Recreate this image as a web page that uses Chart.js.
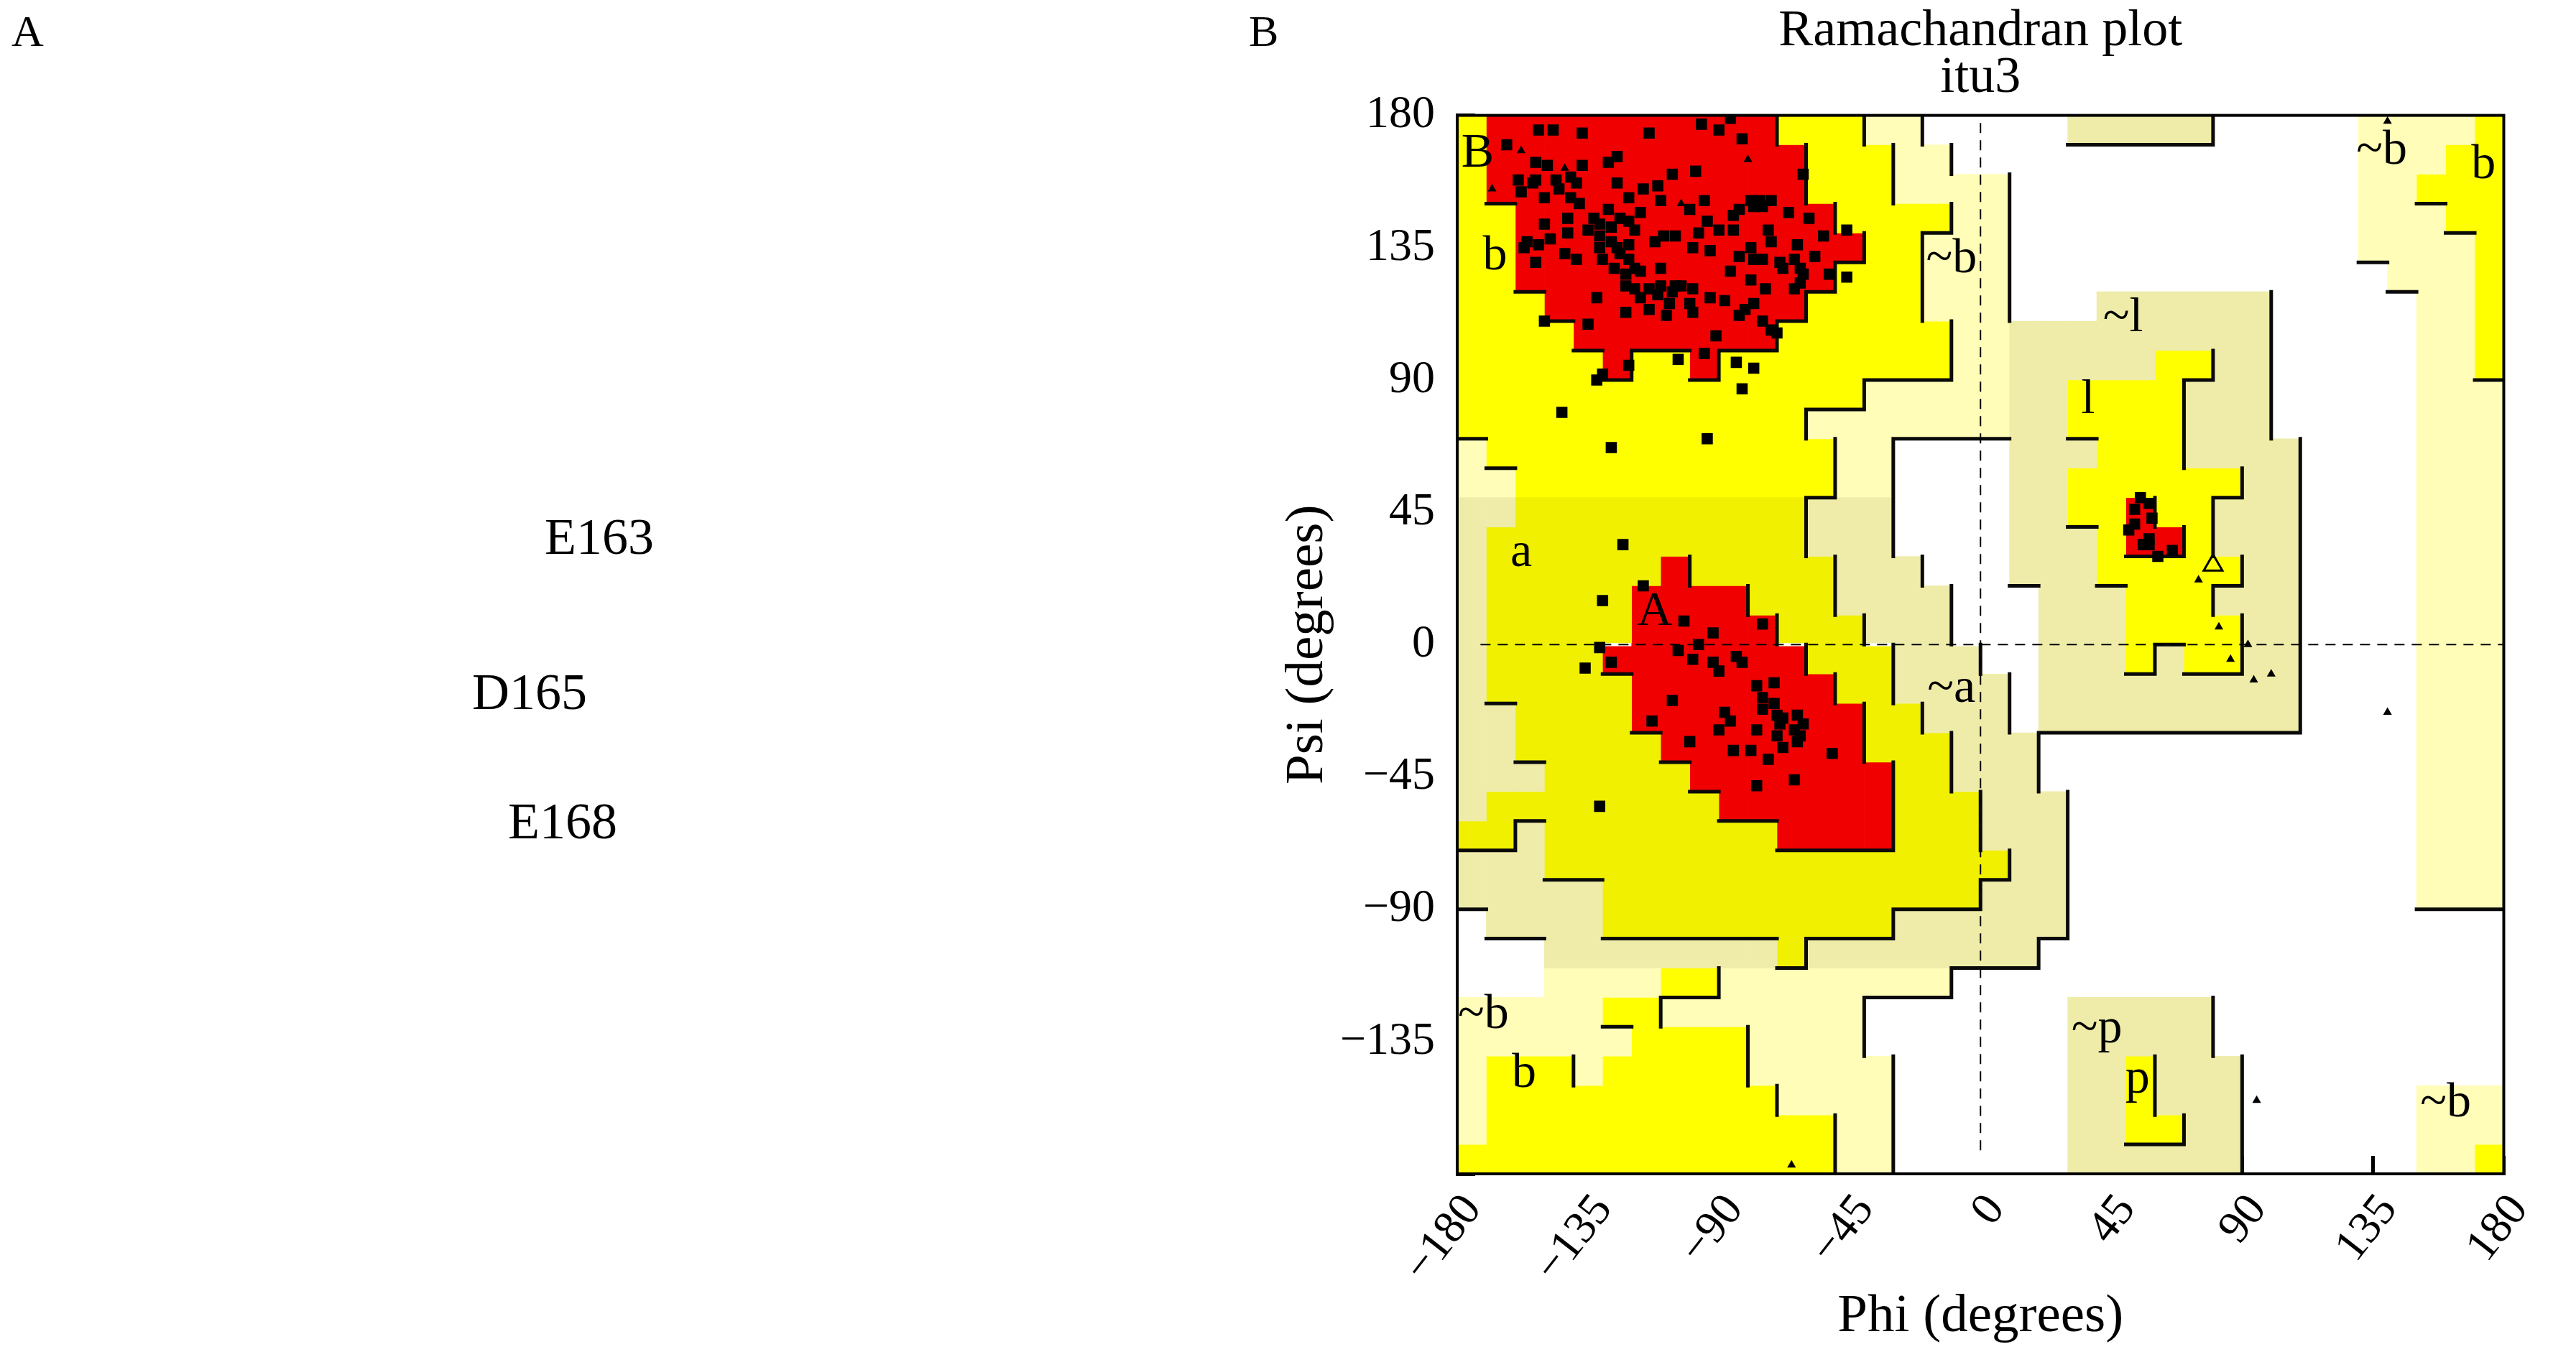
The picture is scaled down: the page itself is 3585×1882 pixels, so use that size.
<!DOCTYPE html>
<html>
<head>
<meta charset="utf-8">
<script src="https://cdn.jsdelivr.net/npm/chart.js@4.4.1/dist/chart.umd.min.js"></script>
<style>
  html, body { margin: 0; padding: 0; background: #fff; width: 3585px; height: 1882px; overflow: hidden; }
  body { font-family: "Liberation Serif", "Times New Roman", serif; color: #000; }
  .lbl { position: absolute; line-height: 1; white-space: nowrap; }
  #wrap { position: absolute; left: 1760px; top: 0; width: 1825px; height: 1882px; }
</style>
</head>
<body>
<div class="lbl" style="left:16px;top:12px;font-size:62px">A</div>
<div class="lbl" style="left:1738px;top:12px;font-size:62px">B</div>
<div class="lbl" style="left:758px;top:711px;font-size:72px">E163</div>
<div class="lbl" style="left:657px;top:927px;font-size:72px">D165</div>
<div class="lbl" style="left:707px;top:1107px;font-size:72px">E168</div>
<div id="wrap"><canvas id="rama" width="1825" height="1882"></canvas></div>
<script>
// tick values on both axes (degrees)
const phiTicks = [-180, -135, -90, -45, 0, 45, 90, 135, 180];
const psiTicks = [-180, -135, -90, -45, 0, 45, 90, 135, 180];

// region map, 10 degree cells. one string per psi row (180 -> -180),
// one char per phi column (-180 -> 180)
// R core, Y allowed, A allowed (alpha side), K/P generous, . disallowed
const regionRows = [
  "YRRRRRRRRRRYYYPP.....KKKKK.....PPPPY",
  "YRRRRRRRRRRRYYYPP..............PPPYY",
  "YRRRRRRRRRRRYYYPPPP............PPYYY",
  "YYRRRRRRRRRRRYYYYPP............PPPYY",
  "YYRRRRRRRRRRRRYYPPP............PPPPY",
  "YYRRRRRRRRRRRYYYPPP.............PPPY",
  "YYYRRRRRRRRRYYYYPPP...KKKKKK.....PPY",
  "YYYYRRRRRRRYYYYYYPPKKKKKKKKK.....PPY",
  "YYYYYRYYRYYYYYYYYPPKKKKKYYKK.....PPY",
  "YYYYYYYYYYYYYYPPPPPKKYYYYKKK.....PPP",
  "YYYYYYYYYYYYPPPPPPPKKYYYYKKK.....PPP",
  "PYYYYYYYYYYYYPP....KKKYYYKKKK....PPP",
  "PPYYYYYYYYYYYPP....KKYYYYYYKK....PPP",
  "KKAAAAAAAAAAKKK....KKYYRYYKKK....PPP",
  "KAAAAAAAAAAAKKK....KKKYRRYKKK....PPP",
  "KAAAAAARAAAAAKKK...KKKYYYYYKK....PPP",
  "KAAAAARRRRAAAKKKK...KKKYYYKKK....PPP",
  "KAAAAARRRRRAAAKKK...KKKYYYYKK....PPP",
  "KAAAARRRRRRRAAAKKK..KKKYKYYKK....PPP",
  "KAAAAARRRRRRRAAKKKK.KKKKKKKKK....PPP",
  "KKAAAARRRRRRRRAAKKK.KKKKKKKKK....PPP",
  "KKAAAAARRRRRRRAAAKKK.............PPP",
  "KKKAAAAARRRRRRRAAKKK.............PPP",
  "KAAAAAAAARRRRRRAAAKKK............PPP",
  "AAKAAAAAAAARRRRAAAKKK............PPP",
  "KKKAAAAAAAAAAAAAAAAKK............PPP",
  "KKKKKAAAAAAAAAAAAAKKK............PPP",
  ".KKKKAAAAAAAAAAKKKKKK...............",
  "...KKKKKKKKAKKKKKKKK................",
  "...PPPPYYPPPPPPPP...................",
  "PPPPPYYPPPPPPP.......KKKKK..........",
  "PPPPPPYYYYPPPP.......KKKKK..........",
  "PYYYPYYYYYPPPPP......KKYKKK.........",
  "PYYYYYYYYYYPPPP......KKYKKK......PPP",
  "PYYYYYYYYYYYYPP......KKYYKK......PPP",
  "YYYYYYYYYYYYYPP......KKKKKK......PPY"
];
const regionColours = { K: '#efeca9', P: '#fffdb7', A: '#f0f000', Y: '#ffff00', R: '#f00000' };
const regionRank = { R: 4, Y: 3, A: 3, K: 2, P: 2, '.': 1 };

// residues [phi, psi]
const betaResidues = [
  [-152,175],[-147,175],[-137,174],[-114,174],[-96,177],[-90,175],[-86,179],[-82,172],[-163,170],
  [-125,166],[-128,164],[-153,164],[-149,163],[-137,163],[-98,161],[-106,160],[-159,158],[-153,158],
  [-146,158],[-141,159],[-139,157],[-61,160],[-125,157],[-116,155],[-111,156],[-158,154],[-150,152],
  [-141,152],[-138,150],[-121,152],[-110,151],[-95,151],[-100,148],[-79,151],[-76,151],[-72,151],
  [-78,149],[-83,148],[-85,146],[-128,148],[-117,147],[-66,147],[-59,145],[-133,145],[-124,145],
  [-142,145],[-150,143],[-94,144],[-46,141],[-97,140],[-90,141],[-85,141],[-73,141],[-54,139],
  [-156,137],[-152,136],[-148,138],[-142,140],[-135,141],[-131,143],[-127,142],[-121,144],[-119,141],
  [-112,137],[-109,139],[-105,139],[-99,135],[-93,134],[-79,135],[-72,137],[-63,136],[-57,132],
  [-157,135],[-153,130],[-143,133],[-139,131],[-131,135],[-130,131],[-124,133],[-121,131],[-119,128],
  [-117,127],[-110,128],[-86,127],[-83,132],[-78,131],[-75,131],[-69,130],[-64,131],[-62,128],
  [-61,126],[-52,126],[-46,125],[-79,124],[-122,122],[-119,121],[-114,121],[-110,122],[-105,122],
  [-103,122],[-99,121],[-132,118],[-117,118],[-114,114],[-107,116],[-100,116],[-93,118],[-88,117],
  [-74,121],[-64,121],[-78,116],[-81,114],[-122,113],[-108,112],[-99,113],[-83,112],[-75,110],
  [-72,107],[-70,106],[-150,110],[-135,109],[-91,105],[-95,99],[-121,95],[-132,90],[-130,92],
  [-104,97],[-84,96],[-78,94],[-82,87],[-144,79],[-127,67],[-94,70],
  [-131,139],[-127,137],[-125,135],[-121,136],[-126,128],[-122,126],[-77,131],[-68,128],[-62,123],
  [-77,150],[-75,149],[-111,119],[-106,120],[-145,155],[-154,157]
];
const alphaResidues = [
  [-123,34],[-116,20],[-130,15],[-102,8],[-92,4],[-75,7],[-97,0],[-131,-1],[-127,-6],[-136,-8],
  [-104,-2],[-99,-5],[-92,-6],[-90,-9],[-84,-4],[-82,-6],[-77,-14],[-71,-13],[-75,-18],[-75,-22],
  [-106,-19],[-88,-23],[-86,-26],[-70,-24],[-63,-24],[-69,-27],[-77,-29],[-90,-29],[-113,-26],
  [-62,-31],[-70,-31],[-63,-33],[-68,-35],[-100,-33],[-85,-36],[-79,-36],[-73,-39],[-51,-37],
  [-64,-46],[-77,-48],[-131,-55],[-68,-25],[-61,-27],[-71,-20],[-64,-29]
];
const leftResidues = [
  [55,50],[58,48],[53,46],[59,43],[51,39],[53,41],[58,36],[56,34],[61,30],[66,32],[58,34]
];
const glycines = [
  [-158,168],[-143,162],[-168,155],[-80,165],[-103,150],[75,22],[82,6],[86,-5],[92,0],
  [94,-12],[100,-10],[140,-23],[140,178],[95,-155],[-65,-177]
];
const outlierGlycine = [[80,27]];

const regionLabels = [
  ['B', -173, 167], ['b', -167, 132], ['~b', -10, 131], ['a', -158, 31], ['A', -112, 11],
  ['~a', -10, -15], ['~l', 49, 111], ['l', 37, 83], ['~b', 138, 168], ['b', 173, 163],
  ['~b', -171, -126], ['b', -157, -146], ['~p', 40, -131], ['p', 54, -148], ['~b', 160, -156]
];

const toXY = list => list.map(p => ({ x: p[0], y: p[1] }));
const fmt = v => (v < 0 ? '\u2212' + (-v) : String(v));

// floating bars, one per vertical run of equal cells
const cellSets = {};
Object.keys(regionColours).forEach(c => { cellSets[c] = []; });
for (let k = 0; k < 36; k++) {
  let j = 0;
  while (j < 36) {
    const c = regionRows[j][k];
    let e = j;
    while (e + 1 < 36 && regionRows[e + 1][k] === c) e++;
    if (c !== '.') cellSets[c].push({ x: -175 + 10 * k, y: [170 - 10 * e, 180 - 10 * j] });
    j = e + 1;
  }
}

// dark edge on the right / lower side of a better region
const edges = [];
for (let j = 0; j < 36; j++) {
  for (let k = 0; k < 36; k++) {
    const r = regionRank[regionRows[j][k]];
    const phiL = -180 + 10 * k;
    const psiT = 180 - 10 * j;
    if (k < 35 && r > regionRank[regionRows[j][k + 1]]) {
      edges.push({ x: phiL + 10, y: psiT }, { x: phiL + 10, y: psiT - 10 }, { x: phiL + 10, y: null });
    }
    if (j < 35 && r > regionRank[regionRows[j + 1][k]]) {
      edges.push({ x: phiL, y: psiT - 10 }, { x: phiL + 10, y: psiT - 10 }, { x: phiL + 10, y: null });
    }
  }
}

const datasets = [];
['K', 'P', 'A', 'Y', 'R'].forEach(c => {
  datasets.push({
    type: 'bar', data: cellSets[c], backgroundColor: regionColours[c], borderWidth: 0,
    grouped: false, barPercentage: 1, categoryPercentage: 1, order: 10
  });
});
datasets.push({
  type: 'line', data: edges, borderColor: '#0a0a0a', borderWidth: 5, pointRadius: 0,
  borderCapStyle: 'square', spanGaps: false, order: 5
});
datasets.push({
  type: 'line', data: [{ x: 0, y: -172 }, { x: 0, y: 180 }], borderColor: '#000', borderWidth: 2,
  borderDash: [14, 10], pointRadius: 0, order: 4
});
datasets.push({
  type: 'line', data: [{ x: -172, y: 0 }, { x: 180, y: 0 }], borderColor: '#000', borderWidth: 2,
  borderDash: [14, 10], pointRadius: 0, order: 4
});
datasets.push({
  type: 'scatter', data: toXY(betaResidues.concat(alphaResidues, leftResidues)),
  pointStyle: 'rect', pointRadius: 11, backgroundColor: '#000', borderWidth: 0, order: 1
});
datasets.push({
  type: 'scatter', data: toXY(glycines), pointStyle: 'triangle', pointRadius: 7,
  backgroundColor: '#000', borderWidth: 0, order: 1
});
datasets.push({
  type: 'scatter', data: toXY(outlierGlycine), pointStyle: 'triangle', pointRadius: 15,
  backgroundColor: 'rgba(0,0,0,0)', borderColor: '#000', borderWidth: 3, order: 1
});

const serif = 'Liberation Serif';

const regionText = {
  id: 'regionText',
  afterDatasetsDraw(chart) {
    const { ctx, chartArea, scales: { x, y } } = chart;
    ctx.save();
    ctx.font = '68px "' + serif + '"';
    ctx.fillStyle = '#000';
    ctx.textAlign = 'center';
    ctx.textBaseline = 'middle';
    regionLabels.forEach(([t, phi, psi]) => {
      ctx.fillText(t, x.getPixelForValue(phi), y.getPixelForValue(psi));
    });
    ctx.lineWidth = 4;
    ctx.strokeStyle = '#000';
    ctx.strokeRect(chartArea.left, chartArea.top, chartArea.width, chartArea.height);
    ctx.restore();
  }
};

const tickColour = c => (c.tick && c.tick.value === 0 ? 'rgba(0,0,0,0)' : '#000');

new Chart(document.getElementById('rama'), {
  type: 'bar',
  data: { datasets: datasets },
  plugins: [regionText],
  options: {
    responsive: false,
    animation: false,
    devicePixelRatio: 1,
    layout: { padding: { left: 0, right: 57, top: 0, bottom: 0 } },
    plugins: {
      legend: { display: false },
      tooltip: { enabled: false },
      title: {
        display: true, text: ['Ramachandran plot', 'itu3'], fullSize: false, color: '#000',
        font: { family: serif, size: 72, weight: 'normal', lineHeight: 0.9 },
        padding: { top: 12, bottom: 19 }
      }
    },
    scales: {
      x: {
        type: 'linear', position: 'bottom', min: -180, max: 180, offset: false,
        afterBuildTicks: s => { s.ticks = phiTicks.map(v => ({ value: v })); },
        afterFit: s => { s.height = 248; },
        grid: { offset: false, drawOnChartArea: false, drawTicks: true, tickLength: -25, lineWidth: 5, color: tickColour },
        border: { display: true, color: '#000', width: 4 },
        ticks: {
          autoSkip: false, minRotation: 52, maxRotation: 52, padding: 40, labelOffset: 22, color: '#000',
          font: { family: serif, size: 64 }, callback: v => fmt(v)
        },
        title: {
          display: true, text: 'Phi (degrees)', color: '#000',
          font: { family: serif, size: 75 }, padding: { top: 0, bottom: 4 }
        }
      },
      y: {
        type: 'linear', position: 'left', min: -180, max: 180,
        afterBuildTicks: s => { s.ticks = psiTicks.map(v => ({ value: v })); },
        afterFit: s => { s.width = 268; },
        grid: { drawOnChartArea: false, drawTicks: true, tickLength: -25, lineWidth: 5, color: tickColour },
        border: { display: true, color: '#000', width: 4 },
        ticks: {
          padding: 56, color: '#000', font: { family: serif, size: 64 },
          callback: v => (v === -180 ? '' : fmt(v))
        },
        title: {
          display: true, text: 'Psi (degrees)', color: '#000',
          font: { family: serif, size: 75 }, padding: { top: 15, bottom: 0 }
        }
      }
    }
  }
});
</script>
</body>
</html>
